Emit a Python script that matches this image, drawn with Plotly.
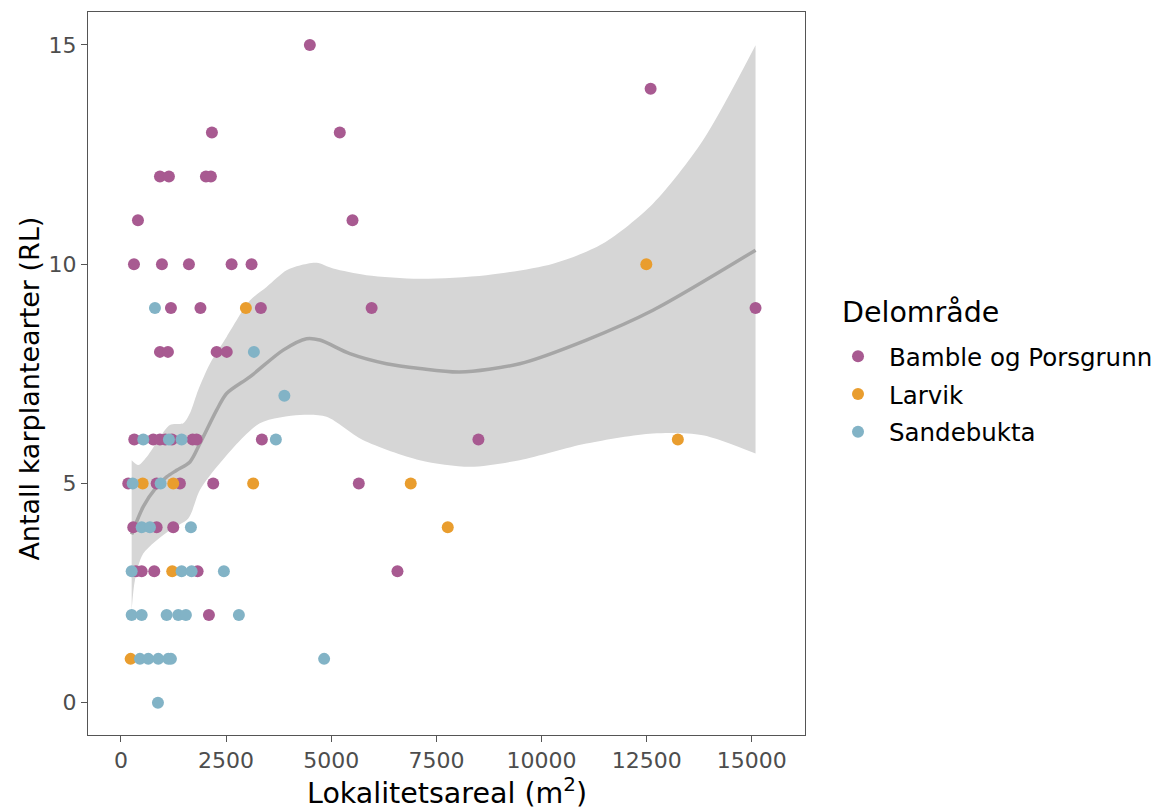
import plotly.graph_objects as go

# ---- data ----
bamble_x = [4491, 12593, 2162, 5203, 927, 1140, 2020, 2138, 404, 5505,
            309, 974, 1616, 2630, 3105, 1188, 1890, 3326, 5960, 15088,
            927, 1117, 2275, 2515, 316, 767, 927, 1053, 1212, 1704, 1799, 3350, 8499,
            173, 848, 1402, 2193, 5655, 292, 848, 1243, 356, 492, 791, 1822, 6574, 2091]
bamble_y = [15, 14, 13, 13, 12, 12, 12, 12, 11, 11,
            10, 10, 10, 10, 10, 9, 9, 9, 9, 9,
            8, 8, 8, 8, 6, 6, 6, 6, 6, 6, 6, 6, 6,
            5, 5, 5, 5, 5, 4, 4, 4, 3, 3, 3, 3, 3, 2]

larvik_x = [230, 1219, 7770, 516, 1243, 3143, 6890, 13241, 2970, 12491]
larvik_y = [1, 3, 4, 5, 5, 5, 5, 6, 9, 10]

sande_x = [879, 451, 649, 886, 1124, 1188, 4830, 254, 492, 1086, 1362, 1544, 2804,
           254, 1442, 1680, 2447, 492, 689, 1663, 278, 943, 530, 1140, 1442, 3683,
           3885, 3160, 808]
sande_y = [0, 1, 1, 1, 1, 1, 1, 2, 2, 2, 2, 2, 2,
           3, 3, 3, 3, 4, 4, 4, 5, 5, 6, 6, 6, 6,
           7, 8, 9]

# loess smooth
smooth_x = [254, 530, 848, 1086, 1323, 1639, 1877, 2274, 2511, 3065, 3856, 4412, 4728,
            5441, 6313, 7106, 8055, 9480, 11065, 12648, 15088]
smooth_y = [3.84, 4.47, 4.92, 5.15, 5.30, 5.49, 5.91, 6.67, 7.05, 7.43, 8.04, 8.30, 8.27,
            7.96, 7.73, 7.62, 7.54, 7.73, 8.27, 8.95, 10.32]

upper_x = [254, 411, 649, 1164, 1480, 1639, 1837, 2115, 2511, 3065, 3462, 3937, 4253,
           4650, 5044, 5838, 7104, 8689, 10272, 11460, 12648, 13835, 15088]
upper_y = [5.53, 5.42, 5.65, 6.33, 6.37, 6.60, 7.13, 7.73, 8.34, 9.17, 9.48, 9.86, 9.97,
           10.03, 9.90, 9.75, 9.67, 9.75, 10.01, 10.47, 11.38, 12.82, 14.99]

lower_x = [254, 333, 530, 1164, 1599, 1877, 2352, 3302, 4253, 4887, 5750, 7104, 8292,
           9480, 11065, 12648, 13835, 15088]
lower_y = [2.11, 2.80, 3.40, 3.94, 4.20, 4.85, 5.46, 6.37, 6.56, 6.52, 5.99, 5.53, 5.38,
           5.53, 5.91, 6.14, 6.10, 5.68]

x_ticks = [0, 2500, 5000, 7500, 10000, 12500, 15000]
y_ticks = [0, 5, 10, 15]

col_b = "#A85A91"
col_l = "#E99D2E"
col_s = "#82B3C6"
FONT = "DejaVu Sans"

fig = go.Figure()

# confidence band: lower edge, then upper edge filled to it
fig.add_trace(go.Scatter(x=lower_x, y=lower_y, mode="lines",
                         line=dict(width=0, shape="spline", smoothing=0.8),
                         hoverinfo="skip", showlegend=False))
fig.add_trace(go.Scatter(x=upper_x, y=upper_y, mode="lines", fill="tonexty",
                         fillcolor="#D6D6D6",
                         line=dict(width=0, shape="spline", smoothing=0.8),
                         hoverinfo="skip", showlegend=False))
fig.add_trace(go.Scatter(x=smooth_x, y=smooth_y, mode="lines",
                         line=dict(color="#A6A6A6", width=3.5, shape="spline", smoothing=0.8),
                         showlegend=False))

for name, xs, ys, c in [("Bamble og Porsgrunn", bamble_x, bamble_y, col_b),
                        ("Larvik", larvik_x, larvik_y, col_l),
                        ("Sandebukta", sande_x, sande_y, col_s)]:
    fig.add_trace(go.Scatter(x=xs, y=ys, mode="markers", name=name, legendgroup=name,
                             marker=dict(color=c, size=12, line=dict(width=0))))

axis_common = dict(showgrid=False, zeroline=False, showline=True, mirror=True,
                   linecolor="#555555", linewidth=1, ticks="outside", ticklen=6,
                   tickcolor="#555555", automargin=False,
                   tickfont=dict(family=FONT, size=22, color="#4D4D4D"))

fig.update_xaxes(range=[-784, 16264], tickvals=x_ticks, ticktext=[str(v) for v in x_ticks],
                 **axis_common)
fig.update_yaxes(range=[-0.736, 15.75], tickvals=y_ticks, ticktext=[str(v) for v in y_ticks],
                 **axis_common)

fig.update_layout(
    width=1162, height=809,
    margin=dict(l=88, r=357, t=12, b=74, autoexpand=False),
    plot_bgcolor="white", paper_bgcolor="white",
    font=dict(family=FONT),
    legend=dict(x=1.0307, y=0.555, xanchor="left", yanchor="top",
                font=dict(family=FONT, size=24.5, color="#000000"),
                tracegroupgap=3, itemwidth=52),
    annotations=[
        dict(text="Lokalitetsareal (m<sup>2</sup>)", xref="paper", yref="paper",
             x=0.5, y=-0.077, xanchor="center", yanchor="middle", showarrow=False,
             font=dict(family=FONT, size=28.5, color="#000000")),
        dict(text="Antall karplantearter (RL)", xref="paper", yref="paper",
             x=-0.081, y=0.479, xanchor="center", yanchor="middle", showarrow=False,
             textangle=-90, font=dict(family=FONT, size=27, color="#000000")),
        dict(text="Delområde", xref="paper", yref="paper",
             x=1.0488, y=0.5837, xanchor="left", yanchor="middle", showarrow=False,
             font=dict(family=FONT, size=28.5, color="#000000")),
    ],
)

fig.write_html("out.html")
